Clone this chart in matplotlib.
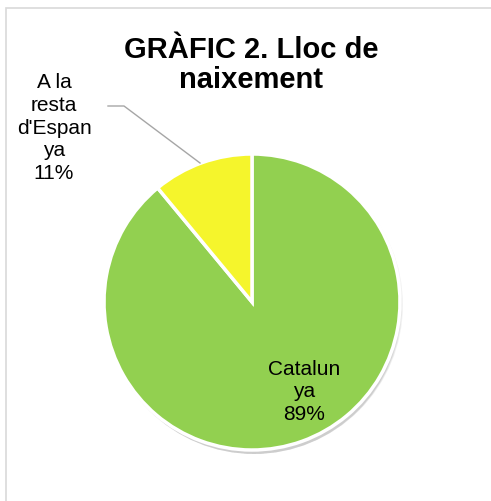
import matplotlib
matplotlib.use('Agg')
import matplotlib.pyplot as plt
from matplotlib.patches import Circle, Rectangle

plt.rcParams['font.family'] = ['Liberation Sans', 'DejaVu Sans']

labels = ['Catalunya', "A la resta d'Espanya"]
values = [89, 11]
colors = ['#92d050', '#f5f52c']
title = 'GRÀFIC 2. Lloc de\nnaixement'

W, H = 491, 502
fig = plt.figure(figsize=(W / 100, H / 100), dpi=100)
ax = fig.add_axes([0, 0, 1, 1])
ax.set_xlim(0, W)
ax.set_ylim(0, H)
ax.set_aspect('equal')
ax.axis('off')

# chart frame (runs off the right and bottom edge)
ax.add_patch(Rectangle((6, -20), 600, H - 9 + 20, fill=False,
                       edgecolor='#d9d9d9', linewidth=1.2))

cx, cy, r = 252, H - 303, 148

# soft shadow under the pie
for i in range(4):
    ax.add_patch(Circle((cx + 2, cy - 3 - i), r + 1 - i, color='black',
                        alpha=0.05, linewidth=0, zorder=1))

wedges, _ = ax.pie(values, colors=colors, startangle=90, counterclock=False,
                   center=(cx, cy), radius=r, frame=True,
                   wedgeprops=dict(edgecolor='white', linewidth=2.5))
for w in wedges:
    w.set_zorder(2)
ax.set_xlim(0, W)
ax.set_ylim(0, H)
ax.axis('off')

ax.text(251, H - 65, title, ha='center', va='center', fontsize=21,
        fontweight='bold', linespacing=1.1, zorder=3)

ax.text(304, H - 392, 'Catalun\nya\n{}%'.format(values[0]), ha='center',
        va='center', fontsize=15, linespacing=1.24, zorder=3)

ax.text(54, H - 128, "A la\nresta\nd'Espan\nya\n{}%".format(values[1]),
        ha='center', va='center', fontsize=15, linespacing=1.24, zorder=3)

ax.plot([108, 124, 200], [H - 107, H - 107, H - 164], color='#a6a6a6',
        linewidth=1, zorder=3)

plt.savefig('out.png', dpi=100)
